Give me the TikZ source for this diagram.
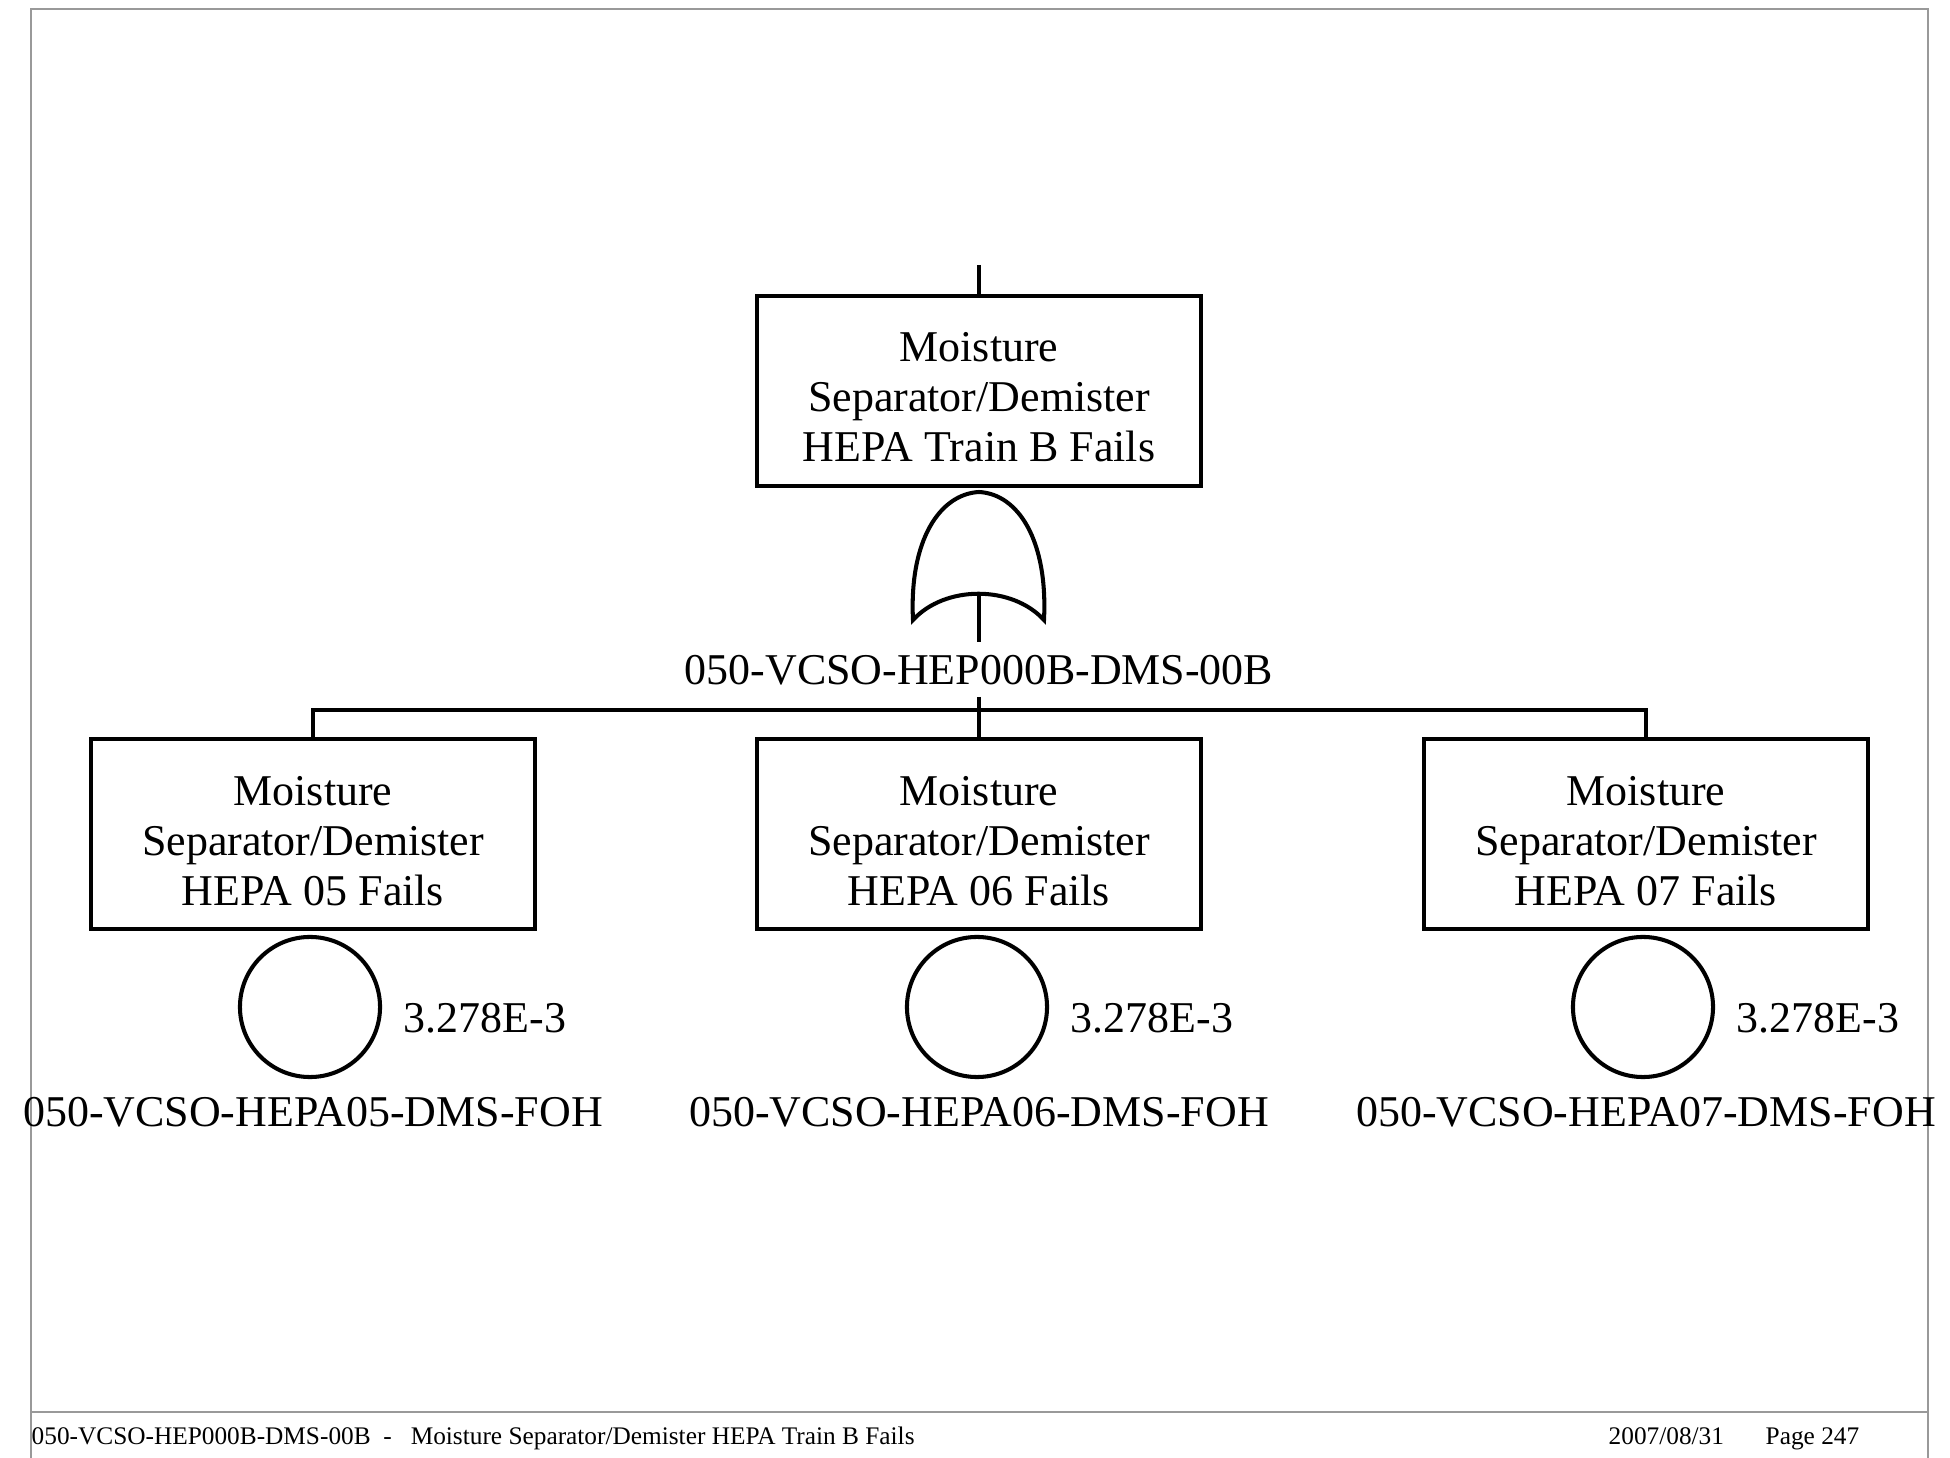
\documentclass[tikz,border=0pt]{standalone}
\usepackage{fontspec}
\setmainfont{Liberation Serif}
\begin{document}
\begin{tikzpicture}[x=0.01cm,y=0.01cm,
  thick line/.style={line width=1.15pt},
  evbox/.style={draw,line width=1.15pt,minimum width=4.44cm,minimum height=1.90cm,inner sep=0pt},
  evtext/.style={align=center,font=\fontsize{12.5}{14.2}\selectfont,inner sep=0pt},
  lbl/.style={font=\fontsize{12.5}{14.2}\selectfont,inner sep=0pt},
  basic/.style={draw,circle,line width=1.15pt,minimum size=1.40cm,inner sep=0pt},
  frame/.style={draw=gray!80,line width=0.6pt},
  foot/.style={font=\fontsize{7.2}{8.5}\selectfont,inner sep=0pt,anchor=base west}]
\useasboundingbox (0,0) rectangle (1950,-1458);
% page frame
\draw[frame] (31,-1458) -- (31,-9) -- (1928,-9) -- (1928,-1458);
\draw[frame] (31,-1412) -- (1928,-1412);
\node[foot] (f1) at (31,-1445) {050-VCSO-HEP000B-DMS-00B\ \ -\ \ \ Moisture Separator/Demister HEPA Train B Fails};
\node[foot] (f2) at (1608,-1445) {2007/08/31};
\node[foot] (f3) at (1765,-1445) {Page 247};
% top event
\coordinate (topin) at (979,-265);
\node[evbox] (top) at (979,-391) {};
\node[evtext] (toptxt) at (979,-397) {Moisture\\Separator/Demister\\HEPA Train B Fails};
\draw[thick line] (topin) -- (top.north);
% OR gate
\coordinate (gapex) at (979,-492);
\coordinate (gbot) at (979,-592);
\draw[thick line] (gapex) .. controls (940,-494) and (909,-540) .. (913,-620)
  .. controls (945,-585) and (1012,-585) .. (1044,-620)
  .. controls (1048,-540) and (1018,-494) .. (gapex);
\coordinate (gout) at (979,-642);
\draw[thick line] (gbot) -- (gout);
\node[lbl] (glabel) at (979,-670) {050-VCSO-HEP000B-DMS-00B};
% children
\node[evbox] (b1) at (313,-834) {};
\node[evbox] (b2) at (979,-834) {};
\node[evbox] (b3) at (1646,-834) {};
\node[evtext] (t1) at (313,-841) {Moisture\\Separator/Demister\\HEPA 05 Fails};
\node[evtext] (t2) at (979,-841) {Moisture\\Separator/Demister\\HEPA 06 Fails};
\node[evtext] (t3) at (1646,-841) {Moisture\\Separator/Demister\\HEPA 07 Fails};
\coordinate (bus) at (979,-710);
\coordinate (stub) at (979,-697);
\draw[thick line] (stub) -- (b2.north);
\draw[thick line] (b1.north) |- (bus) -| (b3.north);
% basic events
\node[basic] (c1) at (310,-1007) {};
\node[basic] (c2) at (977,-1007) {};
\node[basic] (c3) at (1643,-1007) {};
\foreach \i/\x in {1/403,2/1070,3/1736}{
  \node[lbl,anchor=west] (p\i) at (\x,-1018) {3.278E-3};
}
\node[lbl] (e1) at (313,-1112) {050-VCSO-HEPA05-DMS-FOH};
\node[lbl] (e2) at (979,-1112) {050-VCSO-HEPA06-DMS-FOH};
\node[lbl] (e3) at (1646,-1112) {050-VCSO-HEPA07-DMS-FOH};
\end{tikzpicture}
\end{document}
